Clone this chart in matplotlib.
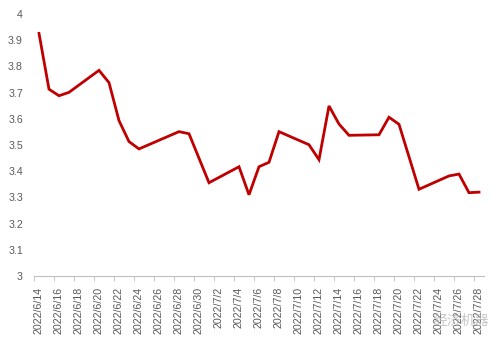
import numpy as np
import pandas as pd
import matplotlib
matplotlib.use('Agg')
import matplotlib.pyplot as plt
import matplotlib.dates as mdates

# values (trading days only, weekends skipped)
dates = ['2022-06-14', '2022-06-15', '2022-06-16', '2022-06-17', '2022-06-20',
         '2022-06-21', '2022-06-22', '2022-06-23', '2022-06-24', '2022-06-28',
         '2022-06-29', '2022-07-01', '2022-07-04', '2022-07-05', '2022-07-06',
         '2022-07-07', '2022-07-08', '2022-07-11', '2022-07-12', '2022-07-13',
         '2022-07-14', '2022-07-15', '2022-07-18', '2022-07-19', '2022-07-20',
         '2022-07-22', '2022-07-25', '2022-07-26', '2022-07-27', '2022-07-28']
values = [3.926, 3.713, 3.688, 3.701, 3.785,
          3.738, 3.593, 3.513, 3.485, 3.551,
          3.543, 3.356, 3.417, 3.310, 3.417,
          3.434, 3.551, 3.501, 3.444, 3.649,
          3.580, 3.537, 3.539, 3.606, 3.579,
          3.331, 3.382, 3.389, 3.318, 3.320]
yticks = [3.0, 3.1, 3.2, 3.3, 3.4, 3.5, 3.6, 3.7, 3.8, 3.9, 4.0]

x = pd.to_datetime(dates)
grey = '#595959'

fig = plt.figure(figsize=(4.99, 3.43), dpi=100)
ax = fig.add_axes([34/499, 1 - 276/343, 450/499, 262/343])

ax.plot(x, values, color='#C00000', lw=2.0, solid_joinstyle='miter')

start = pd.Timestamp('2022-06-14')
end = pd.Timestamp('2022-07-28')
ax.set_xlim(mdates.date2num(start) - 0.5, mdates.date2num(end) + 0.5)
ax.set_ylim(3, 4)

lab_days = pd.date_range(start, end, freq='2D')
ax.set_xticks(mdates.date2num(lab_days))
ax.set_xticklabels(['{}/{}/{}'.format(d.year, d.month, d.day) for d in lab_days],
                   rotation=90, fontsize=7.7, color=grey, family='Liberation Sans')
ax.set_xticks(mdates.date2num(lab_days) - 0.5, minor=True)
ax.tick_params(axis='x', which='major', length=0, pad=8)
ax.tick_params(axis='x', which='minor', length=3.5, width=0.6, color='#bfbfbf')

ax.set_yticks(yticks)
ax.set_yticklabels(['{:g}'.format(v) for v in yticks], fontsize=7.7, color=grey,
                   family='Liberation Sans')
ax.tick_params(axis='y', length=0, pad=8)

for s in ['top', 'right', 'left']:
    ax.spines[s].set_visible(False)
ax.spines['bottom'].set_color('#bfbfbf')
ax.spines['bottom'].set_linewidth(0.8)

# watermark
fig.text(461/499, 1 - 321/343, '经济机器', fontsize=10, color='#b8b8b8', alpha=0.8,
         ha='center', va='center', family=['Noto Sans CJK SC', 'DejaVu Sans'])

fig.savefig('out.png', dpi=100)
